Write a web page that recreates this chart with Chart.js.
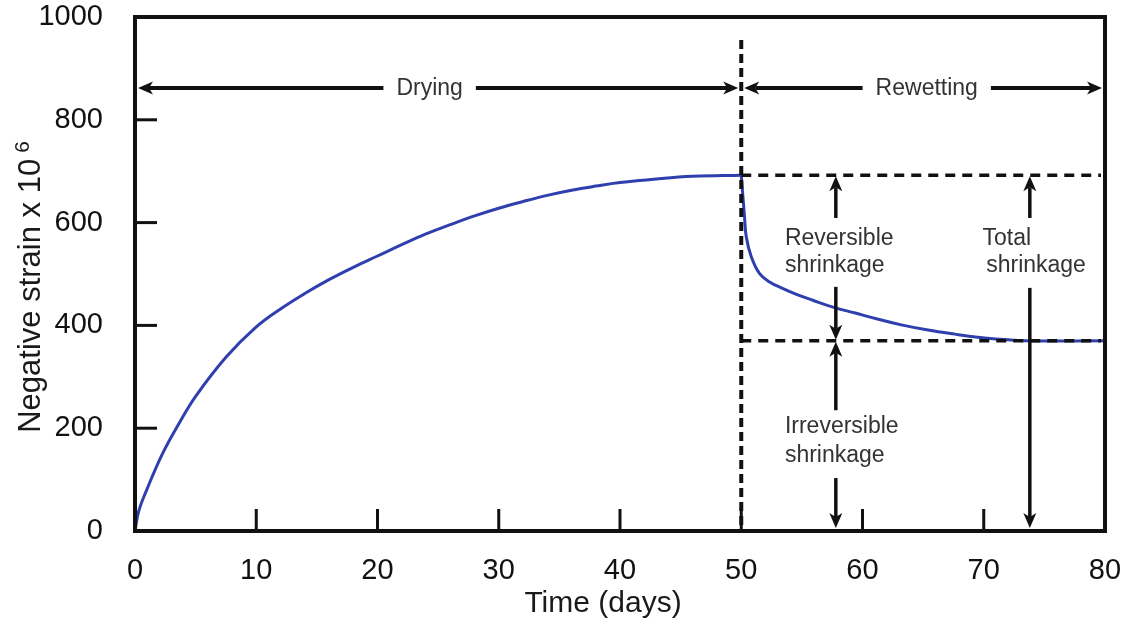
<!DOCTYPE html>
<html>
<head>
<meta charset="utf-8">
<title>Drying and rewetting shrinkage</title>
<script src="https://cdn.jsdelivr.net/npm/chart.js@4.4.0/dist/chart.umd.min.js"></script>
<style>
  html, body { margin: 0; padding: 0; background: #fff; }
</style>
</head>
<body>
<canvas id="strain-chart" width="1128" height="622"></canvas>
<script>
// drying phase, day 0 to 50
const dryDays   = [0, 0.3, 1, 2.3, 3.7, 5, 7.5, 10, 12, 14, 16, 18, 20, 22, 24, 26, 28, 30, 32, 34, 36, 38, 40, 43, 46, 50];
const dryStrain = [0, 38, 82, 152, 212, 262, 338, 397, 432, 462, 489, 513, 535, 557, 578, 596, 613, 628, 641, 653, 663, 671, 678, 685, 690, 692];
// rewetting phase, day 50 to 80
const wetDays   = [50, 50.27, 50.41, 50.82, 51.5, 52.3, 53.4, 54.5, 55.9, 57.5, 59.4, 61.3, 63.2, 65.4, 67.6, 69.5, 71.4, 73.4, 80];
const wetStrain = [692, 611, 573, 534, 501, 485, 472, 461, 449, 436, 424, 412, 401, 391, 383, 377, 373, 370, 370];

const xTicks = [0, 10, 20, 30, 40, 50, 60, 70, 80];
const yTicks = [0, 200, 400, 600, 800, 1000];

// levels marked by the dashed guides
const rewetDay = 50;
const peakStrain = 692;
const finalStrain = 370;

const FONT = '"Liberation Sans", Arial, Helvetica, sans-serif';
const LINE = '#2f3fae';

function seg(ctx, x1, y1, x2, y2) {
  ctx.beginPath();
  ctx.moveTo(x1, y1);
  ctx.lineTo(x2, y2);
  ctx.stroke();
}

// shaft from (x1,y1) with a filled head whose tip is at (x2,y2)
function arrow(ctx, x1, y1, x2, y2, len, half) {
  const ang = Math.atan2(y2 - y1, x2 - x1);
  const c = Math.cos(ang), s = Math.sin(ang);
  const bx = x2 - c * len, by = y2 - s * len;
  seg(ctx, x1, y1, bx + c * 4, by + s * 4);
  ctx.beginPath();
  ctx.moveTo(x2, y2);
  ctx.lineTo(bx + s * half, by - c * half);
  ctx.lineTo(bx + c * 4, by + s * 4);
  ctx.lineTo(bx - s * half, by + c * half);
  ctx.closePath();
  ctx.fill();
}

const overlay = {
  id: 'overlay',
  afterDatasetsDraw(chart) {
    const { ctx, chartArea: a, scales: { x, y } } = chart;
    const px = v => x.getPixelForValue(v);
    const py = v => y.getPixelForValue(v);
    ctx.save();
    ctx.strokeStyle = '#111';
    ctx.fillStyle = '#111';
    ctx.lineCap = 'butt';

    // vertical dotted line where rewetting starts
    ctx.lineWidth = 4;
    ctx.setLineDash([9, 5]);
    seg(ctx, px(rewetDay), a.top + 23, px(rewetDay), a.bottom);

    // horizontal guides at peak and final strain
    ctx.lineWidth = 3.5;
    ctx.setLineDash([10, 7]);
    seg(ctx, px(rewetDay), py(peakStrain), a.right - 4, py(peakStrain));
    seg(ctx, px(rewetDay), py(finalStrain), a.right - 4, py(finalStrain));
    ctx.setLineDash([]);

    // Drying / Rewetting spans
    ctx.font = '23px ' + FONT;
    ctx.textAlign = 'center';
    ctx.textBaseline = 'middle';
    const spanY = py(862);
    const spans = [
      { text: 'Drying', from: 0, to: rewetDay, at: 24.3 },
      { text: 'Rewetting', from: rewetDay, to: 80, at: 65.3 }
    ];
    ctx.lineWidth = 4;
    spans.forEach(s => {
      const cx = px(s.at);
      const half = ctx.measureText(s.text).width / 2 + 13;
      arrow(ctx, cx - half, spanY, px(s.from) + 3, spanY, 15, 6.5);
      arrow(ctx, cx + half, spanY, px(s.to) - 3, spanY, 15, 6.5);
      ctx.fillStyle = '#333';
      ctx.fillText(s.text, cx, spanY + 1);
      ctx.fillStyle = '#111';
    });

    // vertical shrinkage arrows
    ctx.lineWidth = 3.5;
    const revX = px(57.8), totX = px(73.8);
    arrow(ctx, revX, py(609), revX, py(peakStrain) + 1, 15, 6.5);
    arrow(ctx, revX, py(475), revX, py(finalStrain) - 1, 15, 6.5);
    arrow(ctx, revX, py(235), revX, py(finalStrain) + 1, 15, 6.5);
    arrow(ctx, revX, py(103), revX, py(0) - 3, 15, 6.5);
    arrow(ctx, totX, py(609), totX, py(peakStrain) + 1, 15, 6.5);
    arrow(ctx, totX, py(473), totX, py(0) - 3, 15, 6.5);

    // labels
    ctx.fillStyle = '#333';
    ctx.textAlign = 'left';
    ctx.textBaseline = 'alphabetic';
    const labels = [
      ['Reversible', 53.6, 556], ['shrinkage', 53.6, 504],
      ['Total', 69.9, 556], ['shrinkage', 70.2, 504],
      ['Irreversible', 53.6, 191], ['shrinkage', 53.6, 134]
    ];
    labels.forEach(([t, d, s]) => ctx.fillText(t, px(d), py(s)));
    ctx.restore();
  },
  afterDraw(chart) {
    const { ctx, chartArea: a, scales: { x, y } } = chart;
    ctx.save();
    ctx.strokeStyle = '#111';
    ctx.fillStyle = '#111';

    // frame
    ctx.lineWidth = 4;
    ctx.strokeRect(a.left, a.top, a.right - a.left, a.bottom - a.top);

    // inward tick marks
    ctx.lineWidth = 3;
    xTicks.slice(1, -1).forEach(v => seg(ctx, x.getPixelForValue(v), a.bottom, x.getPixelForValue(v), a.bottom - 22));
    yTicks.slice(1, -1).forEach(v => seg(ctx, a.left, y.getPixelForValue(v), a.left + 22, y.getPixelForValue(v)));

    // axis titles
    ctx.fillStyle = '#1a1a1a';
    ctx.font = '30px ' + FONT;
    ctx.textAlign = 'center';
    ctx.textBaseline = 'alphabetic';
    ctx.fillText('Time (days)', 603, 612);

    ctx.translate(40, 287);
    ctx.rotate(-Math.PI / 2);
    ctx.font = '31px ' + FONT;
    const main = 'Negative strain x 10';
    const w = ctx.measureText(main).width;
    ctx.font = '21px ' + FONT;
    const sw = ctx.measureText('6').width;
    const total = w + 6 + sw;
    ctx.textAlign = 'left';
    ctx.font = '31px ' + FONT;
    ctx.fillText(main, -total / 2, 0);
    ctx.font = '21px ' + FONT;
    ctx.fillText('6', -total / 2 + w + 6, -11);
    ctx.restore();
  }
};

const curve = (xs, ys) => ({
  data: xs.map((d, i) => ({ x: d, y: ys[i] })),
  borderColor: LINE,
  borderWidth: 3,
  pointRadius: 0,
  fill: false,
  tension: 0.4
});

new Chart(document.getElementById('strain-chart').getContext('2d'), {
  type: 'line',
  data: {
    datasets: [curve(dryDays, dryStrain), curve(wetDays, wetStrain)]
  },
  options: {
    responsive: false,
    animation: false,
    layout: { padding: { top: 17, right: 23, left: 0, bottom: 0 } },
    plugins: { legend: { display: false }, tooltip: { enabled: false } },
    scales: {
      x: {
        type: 'linear',
        min: 0,
        max: 80,
        afterBuildTicks: s => { s.ticks = xTicks.map(v => ({ value: v })); },
        afterFit: s => { s.height = 91; s.paddingLeft = 0; s.paddingRight = 0; },
        grid: { display: false },
        border: { display: false },
        ticks: { font: { family: FONT, size: 29 }, color: '#111', padding: 15, maxRotation: 0,
                 callback: v => String(v) }
      },
      y: {
        min: 0,
        max: 1000,
        afterBuildTicks: s => { s.ticks = yTicks.map(v => ({ value: v })); },
        afterFit: s => { s.width = 135; s.paddingTop = 0; s.paddingBottom = 0; },
        grid: { display: false },
        border: { display: false },
        ticks: { font: { family: FONT, size: 29 }, color: '#111', padding: 24,
                 callback: v => String(v) }
      }
    }
  },
  plugins: [overlay]
});
</script>
</body>
</html>
